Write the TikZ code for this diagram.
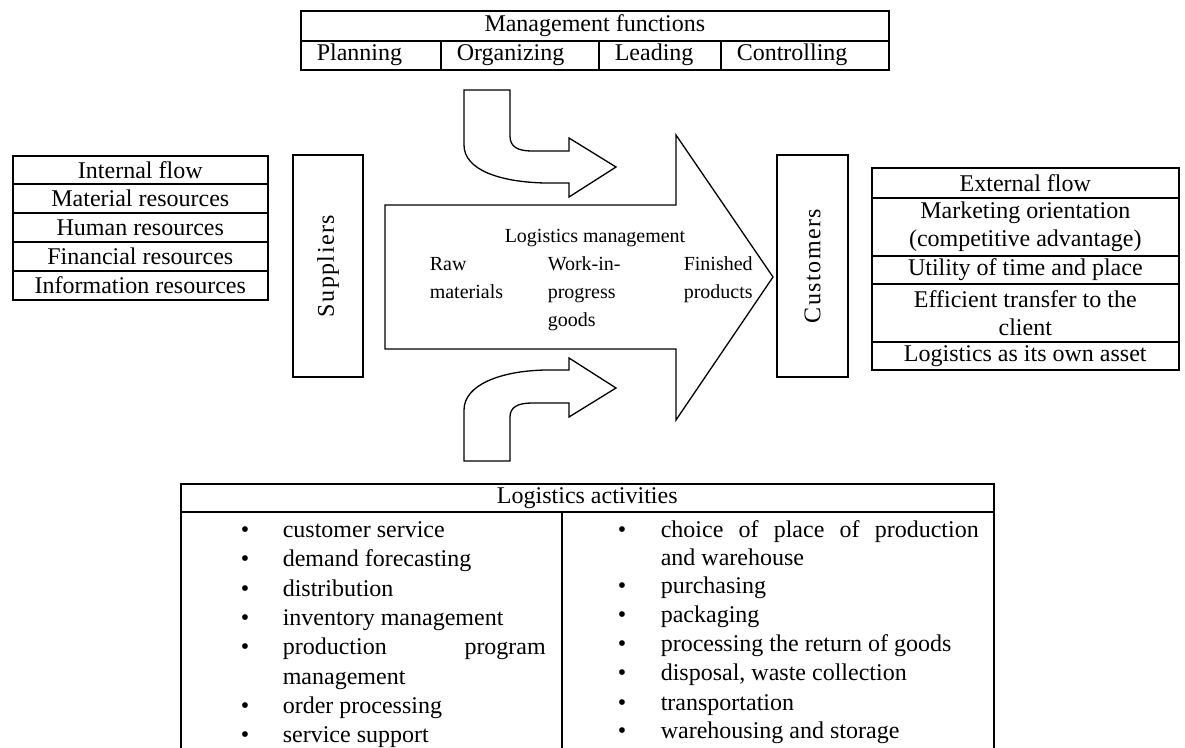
\documentclass[tikz,border=0pt]{standalone}
\usepackage{fontspec}
\setmainfont{Liberation Serif}
\begin{document}
\begin{tikzpicture}[x=1pt,y=-1pt,line width=1.6pt,
  txt/.style={font=\fontsize{24}{28}\selectfont},
  cell/.style={draw, anchor=north west, inner sep=0pt, align=center, txt},
  lcell/.style={draw, anchor=north west, inner ysep=0pt, inner xsep=16pt, txt,
    text height=17pt, text depth=6pt},
  side/.style={draw, rotate=90, inner sep=0pt, minimum width=222, txt},
  small/.style={font=\fontsize{20}{28}\selectfont, inner sep=0pt},
  item/.style={txt, anchor=base west, inner sep=0pt},
  dot/.style={txt, anchor=base, inner sep=0pt},
  block/.style={draw, line width=1.3pt, line join=miter}]
\useasboundingbox (0,0) rectangle (1185,747);
\clip (0,0) rectangle (1185,747);

% management functions
\node[cell, minimum width=588, minimum height=30] (mf) at (300,10) {Management functions};
\node[lcell, minimum width=140, minimum height=29] (pl) at (300,40) {\makebox[108pt][l]{Planning}};
\node[lcell, minimum width=158, minimum height=29] (or) at (440,40) {\makebox[126pt][l]{Organizing}};
\node[lcell, minimum width=122, minimum height=29] (le) at (598,40) {\makebox[90pt][l]{Leading}};
\node[lcell, minimum width=168, minimum height=29] (co) at (720,40) {\makebox[136pt][l]{Controlling}};

% internal flow
\node[cell, minimum width=255, minimum height=28] (if) at (12,155) {Internal flow};
\node[cell, minimum width=255, minimum height=29] (mr) at (12,183) {Material resources};
\node[cell, minimum width=255, minimum height=29] (hr) at (12,212) {Human resources};
\node[cell, minimum width=255, minimum height=29] (fr) at (12,241) {Financial resources};
\node[cell, minimum width=255, minimum height=29] (ir) at (12,270) {Information resources};

% suppliers and customers
\node[side, minimum height=70] (sup) at (328,266) {\addfontfeature{LetterSpace=6}Suppliers};
\node[side, minimum height=71] (cus) at (812.5,266) {\addfontfeature{LetterSpace=6}Customers};

% external flow
\node[cell, minimum width=307, minimum height=30] (ef) at (871,167) {External flow};
\node[cell, minimum width=307, minimum height=58] (mo) at (871,197) {Marketing orientation\\(competitive advantage)};
\node[cell, minimum width=307, minimum height=28] (ut) at (871,255) {Utility of time and place};
\node[cell, minimum width=307, minimum height=58] (et) at (871,283) {Efficient transfer to the\\client};
\node[cell, minimum width=307, minimum height=28] (la) at (871,341) {Logistics as its own asset};

% main flow arrow
\draw[block] (385,205) -- (676,205) -- (676,135) -- (773,277) -- (676,420)
  -- (676,349) -- (385,349) -- cycle;
\node[small, anchor=base] (lm) at (595,242) {Logistics management};
\node[small, anchor=base west] (rw1) at (429,270) {Raw};
\node[small, anchor=base west] (rw2) at (429,298) {materials};
\node[small, anchor=base west] (wp1) at (547,270) {Work-in-};
\node[small, anchor=base west] (wp2) at (547,298) {progress};
\node[small, anchor=base west] (wp3) at (547,326) {goods};
\node[small, anchor=base west] (fp1) at (683,270) {Finished};
\node[small, anchor=base west] (fp2) at (683,298) {products};

% bent arrows
\draw[block] (464,90) -- (510,90) -- (510,136)
  .. controls (510,147) and (518,151) .. (532,151) -- (569,151) -- (569,138)
  -- (616,167) -- (569,197) -- (569,183) -- (545,183)
  .. controls (500,182) and (464,170) .. (464,145) -- cycle;
\draw[block] (464,461) -- (510,461) -- (510,417)
  .. controls (510,407) and (518,403) .. (532,403) -- (569,403) -- (569,417)
  -- (616,388) -- (569,358) -- (569,370) -- (545,370)
  .. controls (500,371) and (464,385) .. (464,410) -- cycle;

% logistics activities
\node[cell, minimum width=813, minimum height=28] (lact) at (180,483) {Logistics activities};
\node[draw, anchor=north west, minimum width=381, minimum height=260] (lcol) at (180,511) {};
\node[draw, anchor=north west, minimum width=432, minimum height=260] (rcol) at (561,511) {};

\foreach \n/\y/\t in {1/537/customer service, 2/566/demand forecasting, 3/596/distribution,
    4/625/inventory management, 5/654/{\makebox[263pt][s]{production program}},
    7/713/order processing, 8/742/service support}{
  \node[dot] (lb\n) at (245,\y) {\textbullet};
  \node[item] (lt\n) at (282,\y) {\t};
}
\node[item] (lt6) at (282,684) {management};

\foreach \n/\y/\t in {1/537/{\makebox[318pt][s]{choice of place of production}}, 3/593/purchasing,
    4/622/packaging, 5/651/processing the return of goods, 6/680/{disposal, waste collection},
    7/710/transportation, 8/738/warehousing and storage}{
  \node[dot] (rb\n) at (622,\y) {\textbullet};
  \node[item] (rt\n) at (660,\y) {\t};
}
\node[item] (rt2) at (660,565) {and warehouse};
\end{tikzpicture}
\end{document}
